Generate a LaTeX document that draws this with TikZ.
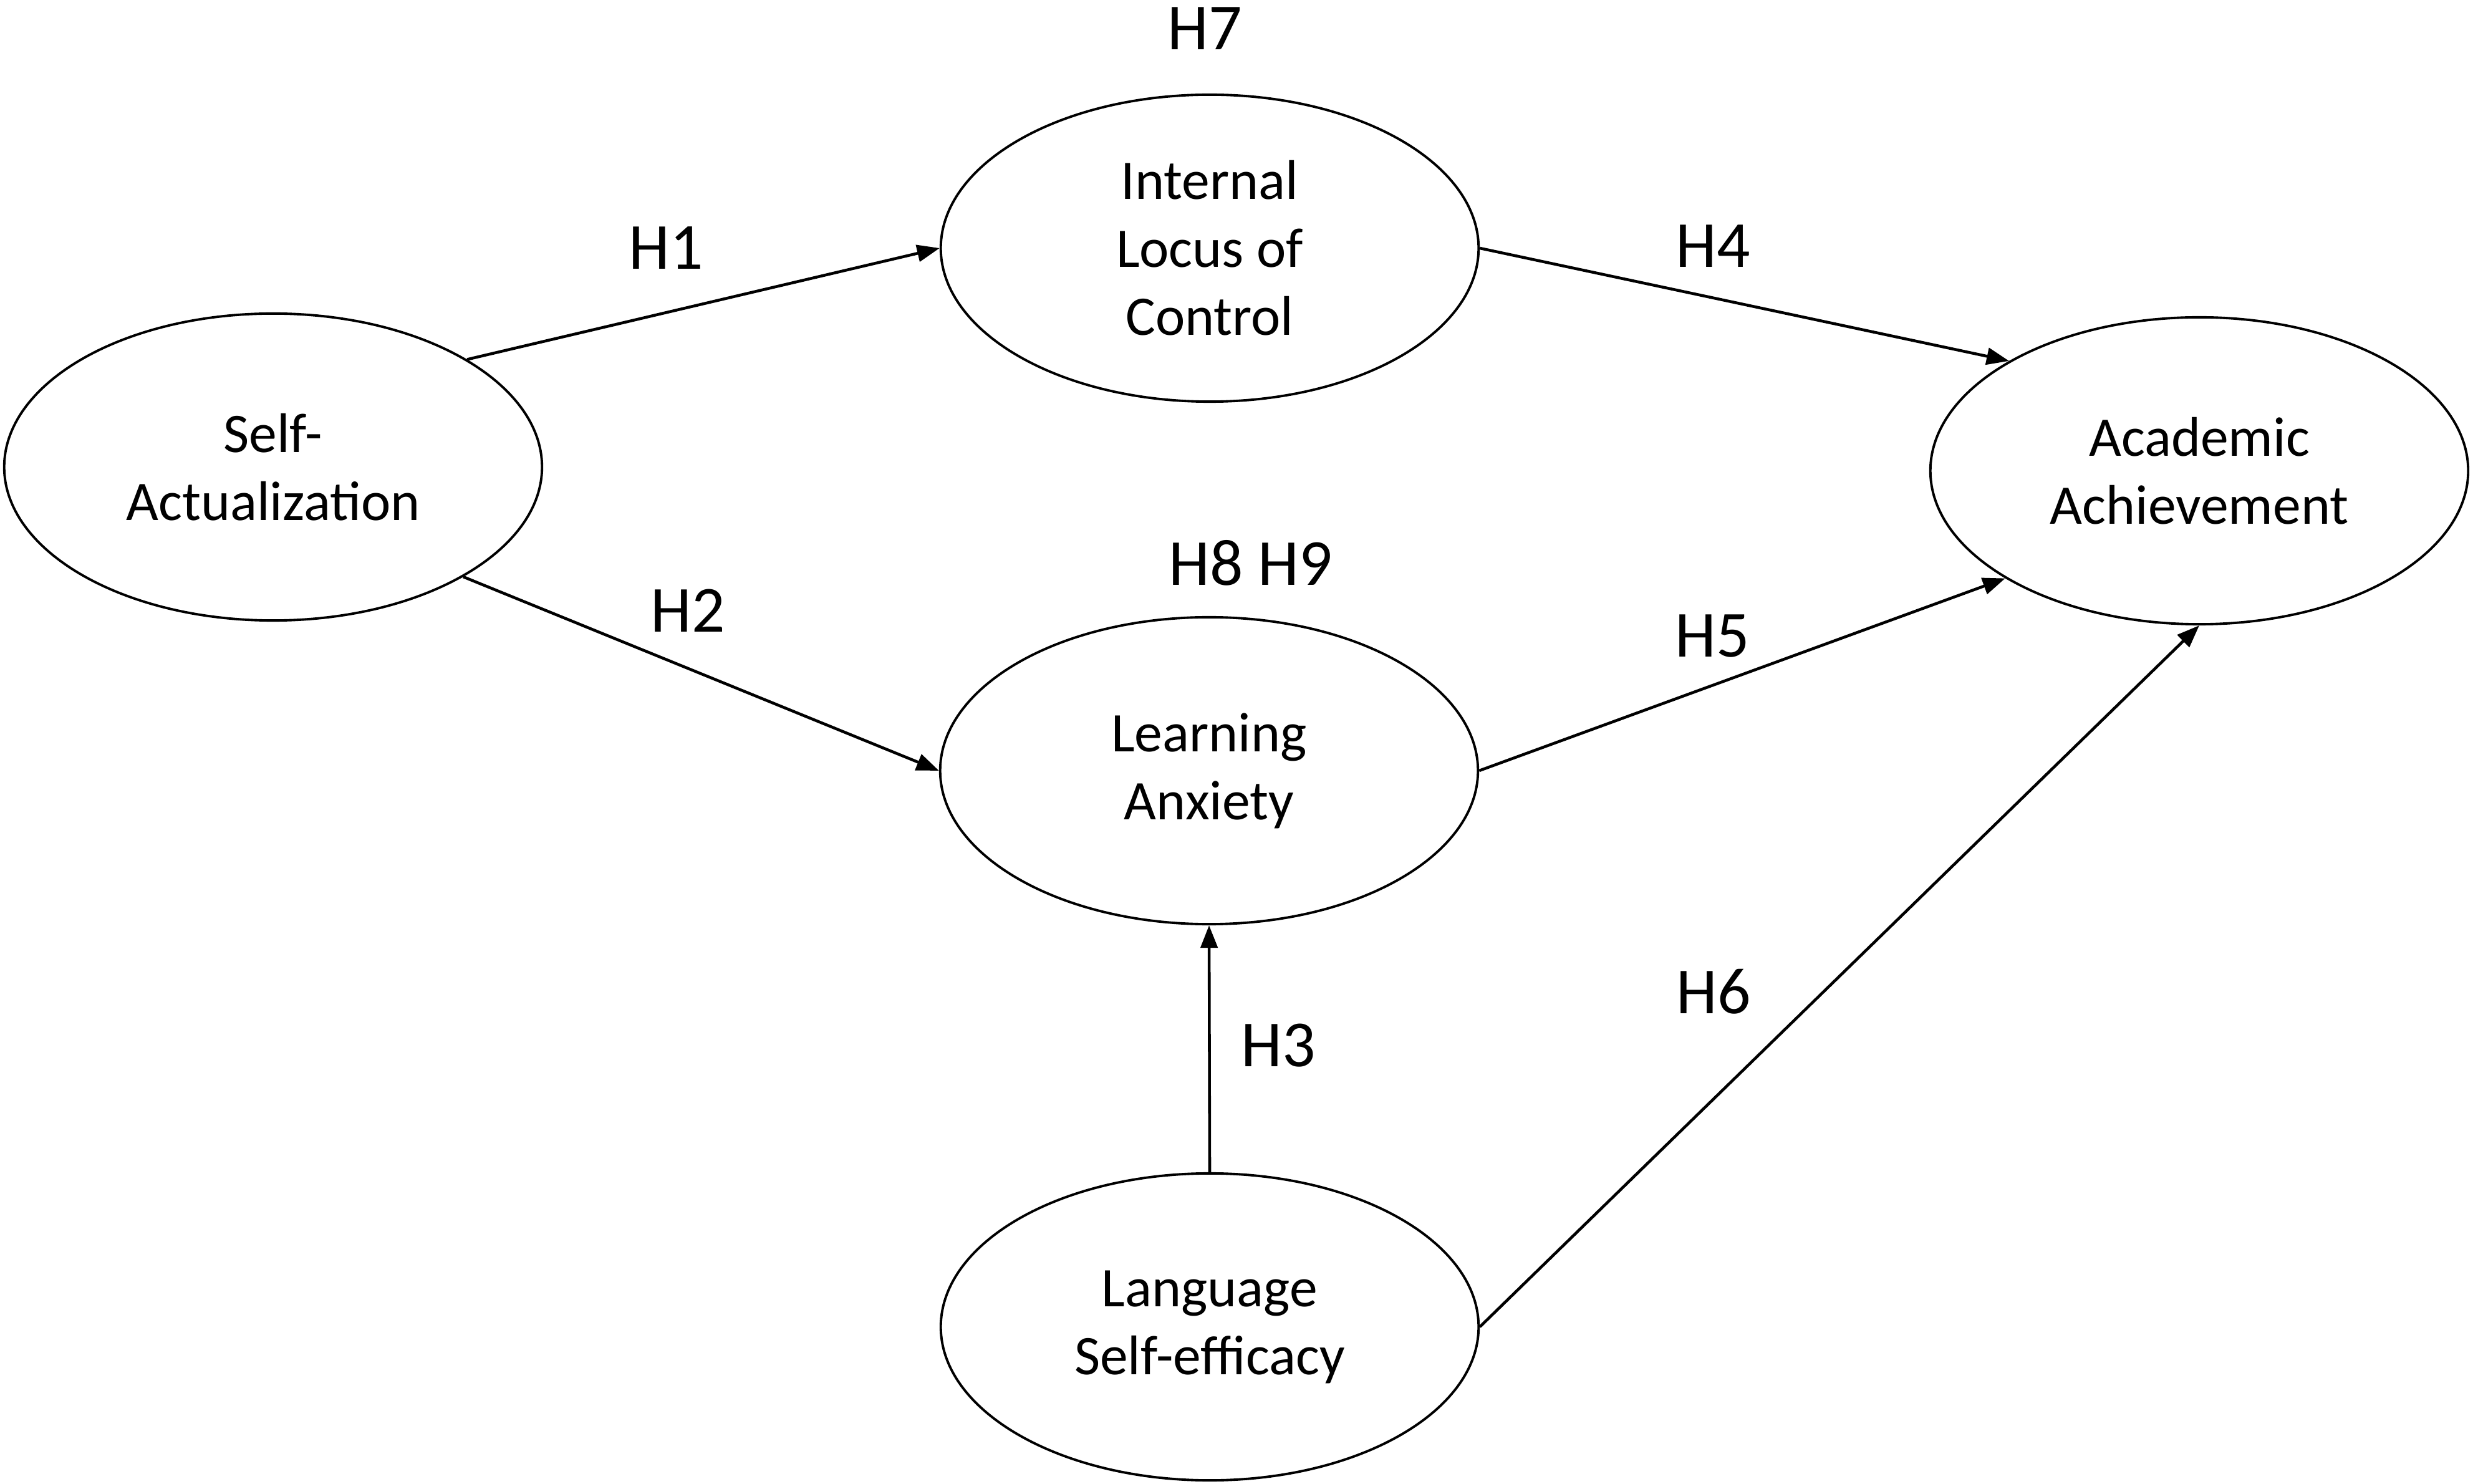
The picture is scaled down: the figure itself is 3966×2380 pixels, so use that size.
\documentclass[tikz,border=0pt]{standalone}
\usepackage{fontspec}
\setmainfont{Carlito}
\usetikzlibrary{arrows.meta,shapes.geometric}
\begin{document}
\begin{tikzpicture}[x=0.01cm,y=-0.01cm,
  construct/.style={ellipse,draw,line width=1.1pt,minimum width=8.62cm,minimum height=4.92cm,inner sep=0pt,align=center,font=\fontsize{25.5}{31}\selectfont},
  hyp/.style={font=\fontsize{30}{36}\selectfont,inner sep=0pt},
  link/.style={line width=1.3pt,-{Triangle[length=0.36cm,width=0.27cm]}}]
\useasboundingbox (0,0) rectangle (3966,2380);
\node[construct] (SA) at (438,749) {Self-\\Actualization};
\node[construct] (ILC) at (1940,398) {Internal\\Locus of\\Control};
\node[construct] (LA) at (1939,1236) {Learning\\Anxiety};
\node[construct] (LSE) at (1940,2128) {Language\\Self-efficacy};
\node[construct] (AA) at (3527,755) {Academic\\Achievement};
\node[hyp] (h1) at (1068,398) {H1};
\node[hyp] (h2) at (1103,979) {H2};
\node[hyp] (h3) at (2050,1677) {H3};
\node[hyp] (h4) at (2747,395) {H4};
\node[hyp] (h5) at (2746,1020) {H5};
\node[hyp] (h6) at (2748,1590) {H6};
\node[hyp] (h7) at (1932,46) {H7};
\node[hyp] (h89) at (2006,903) {H8 H9};
\draw[link] (SA.29) -- (ILC.west);
\draw[link] (SA.-30) -- (LA.west);
\draw[link] (ILC.east) -- (AA.150);
\draw[link] (LA.east) -- (AA.209);
\draw[link] (LSE.north) -- (LA.south);
\draw[link] (LSE.east) -- (AA.south);
\end{tikzpicture}
\end{document}
